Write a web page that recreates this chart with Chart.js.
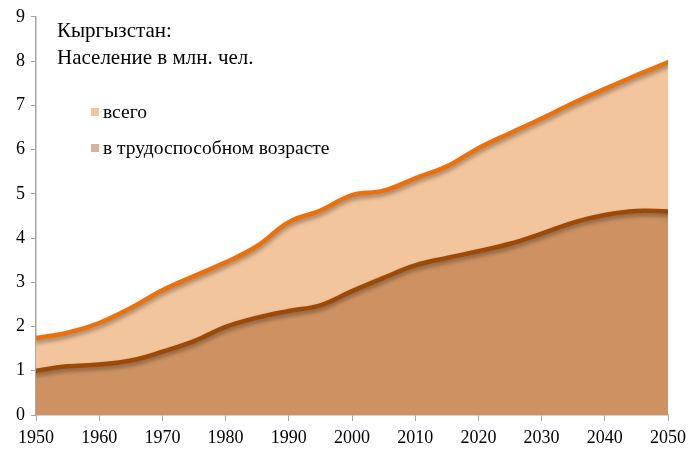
<!DOCTYPE html>
<html>
<head>
<meta charset="utf-8">
<script src="https://cdn.jsdelivr.net/npm/chart.js@4"></script>
<style>
  html, body { margin: 0; padding: 0; background: #fff; }
  #wrap { position: relative; width: 692px; height: 452px; }
  .txt { position: absolute; font-family: "Liberation Serif", "Times New Roman", serif; color: #000; white-space: nowrap; }
  .title { left: 57px; top: 17px; font-size: 21px; line-height: 27px; }
  .leg { font-size: 19.5px; line-height: 22px; }
  .leg span { display: inline-block; width: 8px; height: 8px; margin-right: 4px; vertical-align: 2px; }
</style>
</head>
<body>
<div id="wrap">
  <canvas id="grafico" width="692" height="452"></canvas>
  <div class="txt title">Кыргызстан:<br>Население в млн. чел.</div>
  <div class="txt leg" id="leg0" style="left:91px; top:101px;"></div>
  <div class="txt leg" id="leg1" style="left:91px; top:137px;"></div>
</div>
<script>
const anos = [1950, 1955, 1960, 1965, 1970, 1975, 1980, 1985, 1990, 1995, 2000,
              2005, 2010, 2015, 2020, 2025, 2030, 2035, 2040, 2045, 2050];
const total = [1.74, 1.86, 2.08, 2.42, 2.82, 3.14, 3.45, 3.82, 4.36, 4.62, 4.97,
               5.07, 5.35, 5.62, 6.03, 6.37, 6.70, 7.05, 7.37, 7.68, 7.97];
const trabalho = [1.00, 1.10, 1.14, 1.23, 1.43, 1.67, 1.99, 2.20, 2.35, 2.48, 2.80,
                  3.10, 3.38, 3.55, 3.70, 3.87, 4.10, 4.35, 4.52, 4.61, 4.60];
const nomes = ['всего', 'в трудоспособном возрасте'];
const coresLegenda = ['#F4C49C', '#D6B29B'];

const pontos = (arr) => arr.map((v, i) => ({ x: anos[i], y: v }));

// sombra leve embaixo das linhas
const sombra = {
  id: 'sombra',
  beforeDatasetDraw(chart) {
    const ctx = chart.ctx;
    ctx.save();
    ctx.shadowColor = 'rgba(0,0,0,0.35)';
    ctx.shadowBlur = 4;
    ctx.shadowOffsetY = 3;
  },
  afterDatasetDraw(chart) {
    chart.ctx.restore();
  }
};

const gerarGrafico = () => {
  const ctx = document.getElementById('grafico').getContext('2d');
  new Chart(ctx, {
    type: 'line',
    data: {
      datasets: [
        {
          label: nomes[1],
          data: pontos(trabalho),
          borderColor: '#9C4A0A',
          backgroundColor: '#CE9262',
          borderWidth: 4.5,
          fill: 'origin',
          pointRadius: 0,
          tension: 0.4,
          borderCapStyle: 'round'
        },
        {
          label: nomes[0],
          data: pontos(total),
          borderColor: '#E8720F',
          backgroundColor: '#F3C59C',
          borderWidth: 4.5,
          fill: 'origin',
          pointRadius: 0,
          tension: 0.4,
          borderCapStyle: 'round'
        }
      ]
    },
    options: {
      responsive: false,
      animation: false,
      layout: { padding: { top: 15, right: 22, left: 0, bottom: 0 } },
      plugins: { legend: { display: false }, tooltip: { enabled: false } },
      scales: {
        x: {
          type: 'linear',
          min: 1950,
          max: 2050,
          afterFit: (s) => { s.height = 37; },
          ticks: {
            stepSize: 10,
            color: '#000',
            padding: 6,
            maxRotation: 0,
            font: { family: 'Liberation Serif', size: 18 },
            callback: (v) => String(v)
          },
          grid: { drawOnChartArea: false, drawTicks: true, tickLength: 6, color: '#a6a6a6' },
          border: { color: '#a6a6a6', width: 1.5 }
        },
        y: {
          min: 0,
          max: 9,
          afterFit: (s) => { s.width = 36; },
          ticks: {
            stepSize: 1,
            color: '#000',
            padding: 6,
            font: { family: 'Liberation Serif', size: 18 }
          },
          grid: { drawOnChartArea: false, drawTicks: true, tickLength: 5, color: '#a6a6a6' },
          border: { color: '#a6a6a6', width: 1.5 }
        }
      }
    },
    plugins: [sombra]
  });

  ['leg0', 'leg1'].forEach((id, i) => {
    document.getElementById(id).innerHTML =
      '<span style="background:' + coresLegenda[i] + '"></span>' + nomes[i];
  });
};

window.onload = () => {
  gerarGrafico();
};
</script>
</body>
</html>
